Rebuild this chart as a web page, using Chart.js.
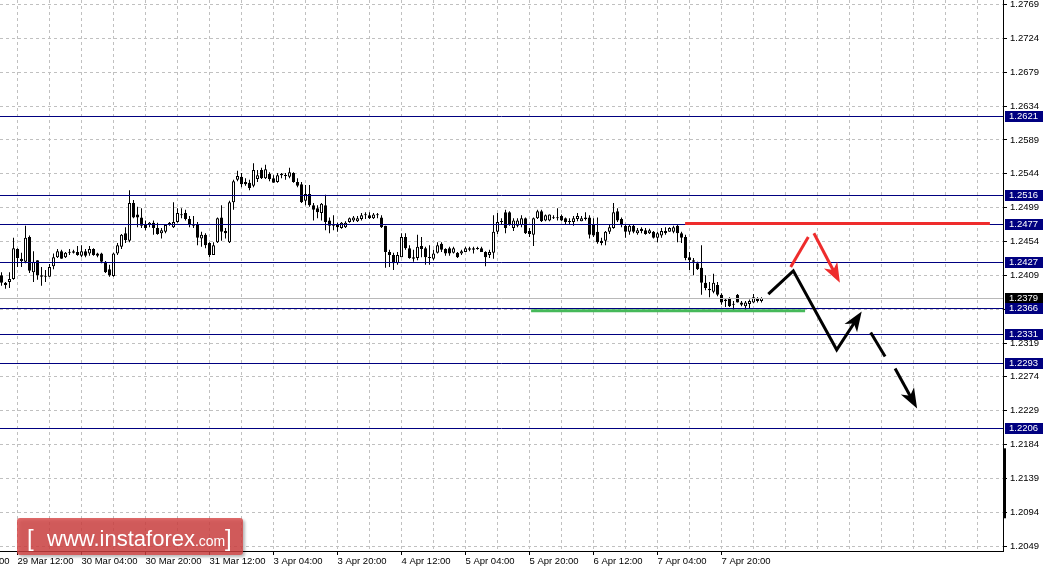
<!DOCTYPE html>
<html>
<head>
<meta charset="utf-8">
<script src="https://cdn.jsdelivr.net/npm/chart.js@4.4.0/dist/chart.umd.min.js"></script>
<style>
  html, body { margin: 0; padding: 0; background: #fff; }
  #wrap { width: 1043px; height: 570px; position: relative; }
</style>
</head>
<body>
<div id="wrap"><canvas id="chart"></canvas></div>
<script>
// H1 candles, bar 0 = 29 Mar 08:00
const opens = [
  1.2409,1.2399,1.2400,1.2404,1.2444,1.2431,1.2427,1.2460,1.2413,1.2429,
  1.2409,1.2408,1.2407,1.2421,1.2433,1.2441,1.2433,1.2439,1.2441,1.2440,
  1.2435,1.2441,1.2438,1.2444,1.2438,1.2438,1.2427,1.2417,1.2408,1.2438,
  1.2447,1.2465,1.2455,1.2505,1.2490,1.2486,1.2477,1.2476,1.2479,1.2472,
  1.2465,1.2467,1.2477,1.2473,1.2480,1.2489,1.2492,1.2484,1.2477,1.2476,
  1.2458,1.2463,1.2452,1.2436,1.2453,1.2486,1.2468,1.2453,1.2506,1.2536,
  1.2540,1.2533,1.2532,1.2528,1.2537,1.2549,1.2538,1.2544,1.2538,1.2533,
  1.2542,1.2542,1.2540,1.2545,1.2533,1.2530,1.2508,1.2517,1.2502,1.2498,
  1.2492,1.2502,1.2482,1.2477,1.2476,1.2472,1.2473,1.2480,1.2482,1.2481,
  1.2484,1.2489,1.2489,1.2485,1.2489,1.2486,1.2475,1.2440,1.2436,1.2425,
  1.2433,1.2460,1.2445,1.2433,1.2432,1.2448,1.2445,1.2433,1.2431,1.2439,
  1.2451,1.2444,1.2445,1.2439,1.2439,1.2438,1.2440,1.2445,1.2443,1.2445,
  1.2445,1.2440,1.2436,1.2439,1.2467,1.2480,1.2493,1.2493,1.2472,1.2475,
  1.2476,1.2485,1.2468,1.2463,1.2485,1.2494,1.2482,1.2482,1.2486,1.2485,
  1.2488,1.2485,1.2481,1.2480,1.2484,1.2481,1.2486,1.2486,1.2477,1.2467,
  1.2455,1.2455,1.2467,1.2472,1.2494,1.2484,1.2475,1.2467,1.2475,1.2465,
  1.2471,1.2469,1.2465,1.2467,1.2459,1.2462,1.2468,1.2467,1.2467,1.2475,
  1.2465,1.2460,1.2433,1.2429,1.2425,1.2419,1.2399,1.2391,1.2387,1.2396,
  1.2383,1.2377,1.2379,1.2371,1.2383,1.2373,1.2368,1.2371,1.2373,1.2379,
  1.2375
];
const highs = [
  1.2413,1.2400,1.2413,1.2459,1.2445,1.2439,1.2475,1.2462,1.2441,1.2429,
  1.2420,1.2416,1.2424,1.2438,1.2444,1.2443,1.2440,1.2444,1.2443,1.2448,
  1.2449,1.2444,1.2448,1.2445,1.2439,1.2439,1.2428,1.2423,1.2439,1.2452,
  1.2464,1.2473,1.2522,1.2509,1.2500,1.2498,1.2482,1.2480,1.2482,1.2479,
  1.2472,1.2477,1.2480,1.2506,1.2498,1.2498,1.2496,1.2488,1.2488,1.2480,
  1.2467,1.2465,1.2453,1.2453,1.2486,1.2502,1.2472,1.2508,1.2536,1.2548,
  1.2545,1.2538,1.2536,1.2558,1.2549,1.2552,1.2556,1.2546,1.2542,1.2545,
  1.2545,1.2545,1.2552,1.2546,1.2538,1.2533,1.2529,1.2529,1.2505,1.2502,
  1.2505,1.2516,1.2486,1.2489,1.2479,1.2480,1.2481,1.2486,1.2488,1.2488,
  1.2492,1.2493,1.2493,1.2492,1.2492,1.2489,1.2475,1.2443,1.2439,1.2440,
  1.2465,1.2465,1.2449,1.2443,1.2463,1.2460,1.2447,1.2449,1.2443,1.2453,
  1.2453,1.2445,1.2447,1.2447,1.2440,1.2443,1.2447,1.2447,1.2447,1.2447,
  1.2447,1.2441,1.2443,1.2489,1.2492,1.2485,1.2496,1.2494,1.2485,1.2485,
  1.2489,1.2486,1.2472,1.2486,1.2496,1.2496,1.2490,1.2490,1.2489,1.2498,
  1.2490,1.2486,1.2485,1.2488,1.2492,1.2488,1.2493,1.2489,1.2485,1.2486,
  1.2459,1.2468,1.2476,1.2505,1.2498,1.2486,1.2477,1.2477,1.2476,1.2472,
  1.2473,1.2472,1.2471,1.2468,1.2467,1.2472,1.2473,1.2473,1.2475,1.2476,
  1.2467,1.2463,1.2440,1.2432,1.2427,1.2449,1.2409,1.2400,1.2411,1.2400,
  1.2385,1.2379,1.2380,1.2375,1.2384,1.2375,1.2375,1.2377,1.2384,1.2380,
  1.2380
];
const lows = [
  1.2395,1.2391,1.2392,1.2403,1.2420,1.2420,1.2425,1.2412,1.2400,1.2403,
  1.2395,1.2400,1.2407,1.2417,1.2432,1.2431,1.2432,1.2436,1.2438,1.2435,
  1.2433,1.2433,1.2435,1.2435,1.2433,1.2425,1.2412,1.2407,1.2407,1.2436,
  1.2444,1.2452,1.2453,1.2485,1.2473,1.2472,1.2469,1.2473,1.2463,1.2463,
  1.2458,1.2465,1.2475,1.2472,1.2479,1.2485,1.2482,1.2473,1.2472,1.2449,
  1.2447,1.2445,1.2433,1.2436,1.2452,1.2455,1.2458,1.2452,1.2496,1.2534,
  1.2526,1.2528,1.2522,1.2526,1.2533,1.2537,1.2537,1.2534,1.2532,1.2532,
  1.2538,1.2536,1.2538,1.2532,1.2526,1.2505,1.2502,1.2500,1.2482,1.2485,
  1.2482,1.2469,1.2465,1.2469,1.2467,1.2471,1.2472,1.2479,1.2480,1.2480,
  1.2482,1.2484,1.2484,1.2484,1.2485,1.2472,1.2419,1.2420,1.2416,1.2423,
  1.2433,1.2443,1.2431,1.2427,1.2429,1.2433,1.2423,1.2423,1.2429,1.2438,
  1.2440,1.2435,1.2435,1.2438,1.2432,1.2436,1.2440,1.2441,1.2438,1.2443,
  1.2440,1.2421,1.2432,1.2431,1.2464,1.2476,1.2465,1.2475,1.2468,1.2473,
  1.2473,1.2464,1.2460,1.2448,1.2484,1.2480,1.2481,1.2481,1.2484,1.2482,
  1.2481,1.2477,1.2476,1.2475,1.2481,1.2481,1.2482,1.2458,1.2460,1.2451,
  1.2449,1.2449,1.2464,1.2471,1.2480,1.2473,1.2459,1.2463,1.2465,1.2463,
  1.2465,1.2463,1.2464,1.2458,1.2453,1.2459,1.2463,1.2467,1.2465,1.2453,
  1.2452,1.2429,1.2416,1.2409,1.2416,1.2383,1.2389,1.2380,1.2385,1.2381,
  1.2370,1.2367,1.2367,1.2363,1.2373,1.2368,1.2363,1.2365,1.2372,1.2373,
  1.2373
];
const closes = [
  1.2399,1.2396,1.2404,1.2445,1.2432,1.2428,1.2459,1.2415,1.2427,1.2409,
  1.2407,1.2407,1.2420,1.2433,1.2441,1.2431,1.2439,1.2440,1.2439,1.2436,
  1.2441,1.2435,1.2444,1.2436,1.2435,1.2427,1.2413,1.2409,1.2438,1.2449,
  1.2463,1.2456,1.2505,1.2486,1.2486,1.2475,1.2472,1.2479,1.2472,1.2464,
  1.2469,1.2476,1.2479,1.2480,1.2492,1.2490,1.2484,1.2477,1.2475,1.2459,
  1.2463,1.2449,1.2436,1.2449,1.2485,1.2467,1.2465,1.2506,1.2534,1.2541,
  1.2530,1.2530,1.2525,1.2549,1.2542,1.2538,1.2550,1.2537,1.2532,1.2542,
  1.2544,1.2541,1.2546,1.2533,1.2528,1.2506,1.2517,1.2502,1.2496,1.2493,
  1.2504,1.2480,1.2475,1.2475,1.2473,1.2479,1.2479,1.2485,1.2486,1.2485,
  1.2489,1.2490,1.2485,1.2490,1.2490,1.2473,1.2440,1.2436,1.2425,1.2436,
  1.2460,1.2445,1.2432,1.2431,1.2447,1.2444,1.2433,1.2432,1.2438,1.2449,
  1.2443,1.2438,1.2438,1.2445,1.2433,1.2441,1.2445,1.2443,1.2445,1.2444,
  1.2440,1.2433,1.2440,1.2467,1.2480,1.2481,1.2472,1.2476,1.2482,1.2482,
  1.2485,1.2465,1.2464,1.2485,1.2494,1.2481,1.2489,1.2490,1.2485,1.2486,
  1.2482,1.2480,1.2480,1.2485,1.2488,1.2485,1.2484,1.2463,1.2462,1.2453,
  1.2452,1.2467,1.2473,1.2493,1.2482,1.2476,1.2467,1.2475,1.2467,1.2469,
  1.2468,1.2464,1.2469,1.2459,1.2465,1.2468,1.2465,1.2472,1.2473,1.2465,
  1.2459,1.2432,1.2429,1.2427,1.2417,1.2399,1.2392,1.2389,1.2399,1.2383,
  1.2373,1.2375,1.2368,1.2370,1.2373,1.2370,1.2373,1.2375,1.2380,1.2375,
  1.2379
];

// time axis labels and the bar they sit on (first one is cut off at the left edge)
const timeLabels = ['28 Mar 20:00', '29 Mar 12:00', '30 Mar 04:00', '30 Mar 20:00', '31 Mar 12:00', '3 Apr 04:00',
  '3 Apr 20:00', '4 Apr 12:00', '5 Apr 04:00', '5 Apr 20:00', '6 Apr 12:00', '7 Apr 04:00', '7 Apr 20:00'];
const timeLabelBars = [-12, 4, 20, 36, 52, 68, 84, 100, 116, 132, 148, 164, 180];

// price scale
const priceTicks = [1.2769, 1.2724, 1.2679, 1.2634, 1.2589, 1.2544, 1.2499, 1.2454, 1.2409,
  1.2364, 1.2319, 1.2274, 1.2229, 1.2184, 1.2139, 1.2094, 1.2049];
const levels = [1.2621, 1.2516, 1.2477, 1.2427, 1.2366, 1.2331, 1.2293, 1.2206];
const lastPrice = 1.2379;
const scrollRange = [1.2179, 1.2086];

// drawn objects: [bar, price]
const resistanceLine = [[170.9, 1.2478], [247.1, 1.2478]];
const supportLine = [[132.4, 1.2362], [200.9, 1.2362]];
const blackPath = [[191.7, 1.2384], [197.95, 1.2415], [208.8, 1.2310], [215.05, 1.2361]];
const blackDash1 = [[217.3, 1.2333], [220.9, 1.2301]];
const blackDash2 = [[223.4, 1.2285], [228.9, 1.2232]];
const redPath1 = [[197.3, 1.2420], [201.7, 1.2460]];
const redPath2 = [[203.1, 1.2465], [209.6, 1.2399]];

const FONT = 'Liberation Sans, Arial, sans-serif';

const bodies = opens.map((o, i) => ({ x: i, y: [o, closes[i]] }));
const wicks = opens.map((o, i) => ({ x: i, y: [lows[i], highs[i]] }));
const bodyColors = opens.map((o, i) => closes[i] >= o ? '#ffffff' : '#000000');

const gridBars = [-12];
for (let b = 4; b <= 250; b += 8) gridBars.push(b);

function noPad(s) {
  s.paddingLeft = 0; s.paddingRight = 0; s.paddingTop = 0; s.paddingBottom = 0;
}

function hLine(ctx, x1, x2, yPix, color, w) {
  const yy = Math.round(yPix) + (w % 2 ? 0.5 : 0);
  ctx.strokeStyle = color;
  ctx.lineWidth = w;
  ctx.beginPath();
  ctx.moveTo(x1, yy);
  ctx.lineTo(x2, yy);
  ctx.stroke();
}

function drawPath(chart, pts, color, head) {
  const { ctx, scales: { x, y } } = chart;
  const p = pts.map(([b, v]) => [x.getPixelForValue(b), y.getPixelForValue(v)]);
  ctx.strokeStyle = color;
  ctx.fillStyle = color;
  ctx.lineWidth = 3;
  ctx.lineJoin = 'miter';
  ctx.lineCap = 'butt';
  const last = p.length - 1;
  let end = p[last];
  let ang = 0;
  if (head) {
    const [x1, y1] = p[last - 1];
    ang = Math.atan2(end[1] - y1, end[0] - x1);
    end = [end[0] - 12 * Math.cos(ang), end[1] - 12 * Math.sin(ang)];
  }
  ctx.beginPath();
  ctx.moveTo(p[0][0], p[0][1]);
  for (let i = 1; i < last; i++) ctx.lineTo(p[i][0], p[i][1]);
  ctx.lineTo(end[0], end[1]);
  ctx.stroke();
  if (head) {
    const [tx, ty] = p[last];
    const L = 20, W = 7.5;
    const bx = tx - L * Math.cos(ang), by = ty - L * Math.sin(ang);
    const nx = tx - 0.72 * L * Math.cos(ang), ny = ty - 0.72 * L * Math.sin(ang);
    ctx.beginPath();
    ctx.moveTo(tx, ty);
    ctx.lineTo(bx - W * Math.sin(ang), by + W * Math.cos(ang));
    ctx.lineTo(nx, ny);
    ctx.lineTo(bx + W * Math.sin(ang), by - W * Math.cos(ang));
    ctx.closePath();
    ctx.fill();
  }
}

const overlay = {
  id: 'overlay',
  afterDatasetsDraw(chart) {
    const { ctx, chartArea: a, scales: { y } } = chart;
    ctx.save();
    ctx.beginPath();
    ctx.rect(a.left, a.top, a.right - a.left, a.bottom - a.top);
    ctx.clip();
    hLine(ctx, a.left, a.right, y.getPixelForValue(lastPrice), '#b8b8b8', 1);
    levels.forEach(v => hLine(ctx, a.left, a.right, y.getPixelForValue(v), '#000080', 1));
    drawPath(chart, resistanceLine, '#ee2c2c', false);
    drawPath(chart, supportLine, '#46b95a', false);
    drawPath(chart, redPath1, '#ee2c2c', false);
    drawPath(chart, redPath2, '#ee2c2c', true);
    drawPath(chart, blackPath, '#000000', true);
    drawPath(chart, blackDash1, '#000000', false);
    drawPath(chart, blackDash2, '#000000', true);
    ctx.restore();
  },
  afterDraw(chart) {
    const { ctx, chartArea: a, scales: { y } } = chart;
    ctx.save();
    // price boxes on the axis
    ctx.font = '9.5px ' + FONT;
    ctx.textBaseline = 'middle';
    ctx.textAlign = 'left';
    const box = (v, bg) => {
      const yc = Math.round(y.getPixelForValue(v));
      ctx.fillStyle = bg;
      ctx.fillRect(a.right + 2, yc - 5, chart.width - a.right - 2, 11);
      ctx.fillStyle = '#ffffff';
      ctx.fillText(v.toFixed(4), a.right + 6, yc + 0.5);
    };
    box(lastPrice, '#000000');
    levels.forEach(v => box(v, '#000080'));
    // scroll marker on the price axis
    const s1 = y.getPixelForValue(scrollRange[0]), s2 = y.getPixelForValue(scrollRange[1]);
    ctx.fillStyle = '#000000';
    ctx.fillRect(a.right, s1, 3, s2 - s1);

    // watermark
    ctx.save();
    ctx.shadowColor = 'rgba(0,0,0,0.35)';
    ctx.shadowBlur = 3;
    ctx.shadowOffsetX = 2;
    ctx.shadowOffsetY = 2;
    ctx.fillStyle = 'rgba(214,66,66,0.80)';
    ctx.beginPath();
    ctx.roundRect(17, 518, 226, 37, 3);
    ctx.fill();
    ctx.restore();
    ctx.fillStyle = '#ffffff';
    ctx.textBaseline = 'alphabetic';
    ctx.font = '24px ' + FONT;
    ctx.fillText('[', 27, 546);
    ctx.fillText(']', 225, 546);
    ctx.font = '22px ' + FONT;
    ctx.fillText('www.instaforex', 47, 546);
    const w = ctx.measureText('www.instaforex').width;
    ctx.font = '14px ' + FONT;
    ctx.fillText('.com', 47 + w, 546);
    ctx.restore();
  }
};

new Chart(document.getElementById('chart'), {
  type: 'bar',
  data: {
    datasets: [
      {
        data: bodies,
        backgroundColor: bodyColors,
        borderColor: '#000000',
        borderWidth: 1,
        borderSkipped: false,
        barThickness: 3,
        minBarLength: 1,
        inflateAmount: 0,
        grouped: false
      },
      {
        data: wicks,
        backgroundColor: '#000000',
        borderWidth: 0,
        barThickness: 1,
        inflateAmount: 0,
        grouped: false
      }
    ]
  },
  options: {
    responsive: true,
    maintainAspectRatio: false,
    animation: false,
    events: [],
    layout: { padding: 0 },
    plugins: { legend: { display: false }, tooltip: { enabled: false } },
    scales: {
      x: {
        type: 'linear',
        offset: false,
        min: -0.375,
        max: 250.375,
        afterBuildTicks: s => { s.ticks = gridBars.map(v => ({ value: v })); },
        afterFit: s => { s.height = 19; noPad(s); },
        ticks: {
          autoSkip: false,
          maxRotation: 0,
          minRotation: 0,
          align: 'start',
          padding: 1,
          color: '#000000',
          font: { family: FONT, size: 9.5 },
          callback: v => {
            const i = timeLabelBars.indexOf(v);
            return i < 0 ? '' : timeLabels[i];
          }
        },
        grid: {
          offset: false,
          color: '#c0c0c0',
          lineWidth: 1,
          tickLength: 4,
          tickColor: c => (c.tick && timeLabelBars.includes(c.tick.value)) ? '#000000' : 'rgba(0,0,0,0)'
        },
        border: { color: '#000000', width: 1, dash: [3, 3] }
      },
      y: {
        position: 'right',
        min: 1.20425,
        max: 1.27750,
        afterBuildTicks: s => { s.ticks = priceTicks.map(v => ({ value: v })); },
        afterFit: s => { s.width = 40; noPad(s); },
        ticks: {
          autoSkip: false,
          padding: 3,
          color: '#000000',
          font: { family: FONT, size: 9.5 },
          callback: v => v.toFixed(4)
        },
        grid: { color: '#c0c0c0', lineWidth: 1, tickLength: 4, tickColor: '#000000' },
        border: { color: '#000000', width: 1, dash: [3, 3] }
      }
    }
  },
  plugins: [overlay]
});
</script>
</body>
</html>
